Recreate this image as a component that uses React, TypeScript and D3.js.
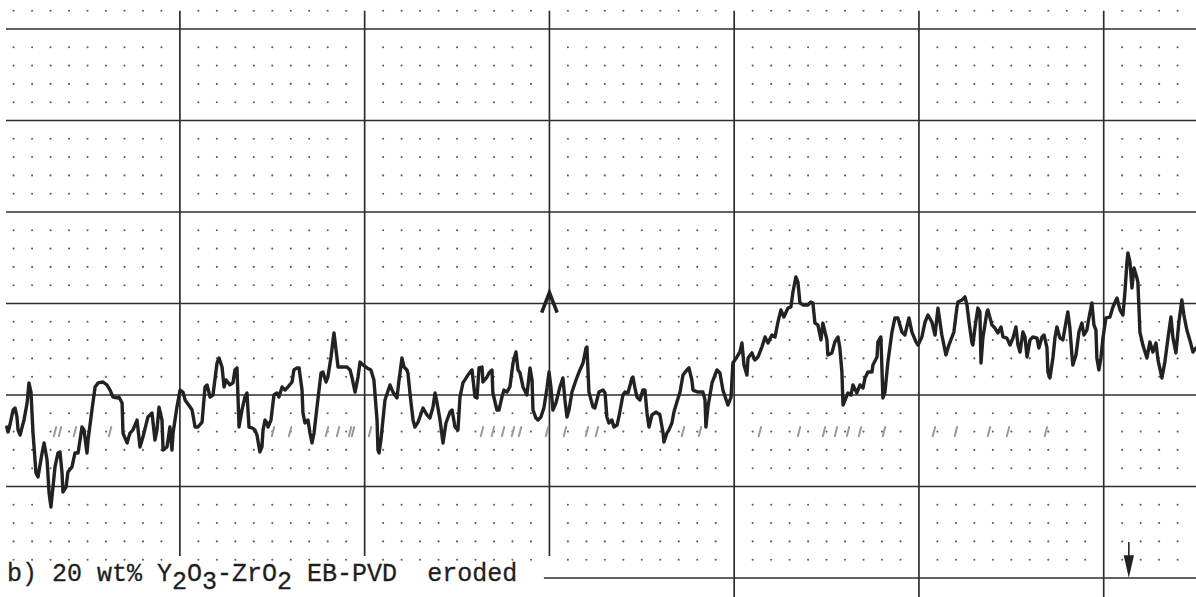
import React from "react";
import * as d3 from "d3";

// Recorder trace: [time (chart divisions), signal (chart divisions)]
const trace: [number, number][] = [
  [0.63, 8.25], [0.7, 7.98], [0.8, 8.36], [0.97, 9.18], [1.08, 9.29], [1.18, 8.8], [1.24, 8.09], [1.35, 7.81],
  [1.45, 8.2], [1.56, 8.63], [1.73, 9.56], [1.83, 10.66], [1.94, 10.16], [2.05, 7.92], [2.21, 5.74], [2.32, 5.52],
  [2.54, 6.83], [2.65, 7.38], [2.81, 6.45], [2.92, 4.64], [3.02, 3.88], [3.13, 4.97], [3.24, 6.07], [3.4, 6.83],
  [3.51, 6.89], [3.62, 5.74], [3.67, 4.7], [3.84, 4.97], [3.94, 5.79], [4.16, 6.07], [4.32, 6.83], [4.49, 6.83],
  [4.7, 8.25], [4.81, 8.09], [4.97, 6.83], [5.03, 7.54], [5.24, 9.18], [5.41, 10.44], [5.57, 10.66], [5.84, 10.71],
  [6.05, 10.55], [6.22, 10.27], [6.38, 9.89], [6.6, 9.84], [6.7, 9.89], [6.87, 9.56], [6.92, 7.92], [7.14, 7.38],
  [7.3, 7.92], [7.46, 8.09], [7.68, 8.63], [7.84, 7.16], [8.0, 7.7], [8.27, 8.8], [8.49, 9.02], [8.65, 7.54],
  [8.76, 8.09], [8.87, 9.34], [9.03, 8.63], [9.09, 6.99], [9.3, 7.16], [9.46, 8.25], [9.57, 6.99], [9.63, 7.92],
  [9.84, 9.34], [10.01, 10.27], [10.17, 10.16], [10.28, 9.73], [10.55, 9.34], [10.66, 9.18], [10.82, 8.25], [10.98, 8.25],
  [11.2, 8.52], [11.36, 10.44], [11.47, 10.55], [11.63, 9.89], [11.79, 10.0], [12.01, 11.75], [12.12, 12.02], [12.28, 11.53],
  [12.39, 10.44], [12.5, 10.82], [12.71, 10.55], [12.87, 10.66], [12.98, 11.37], [13.09, 11.48], [13.2, 8.25], [13.36, 9.18],
  [13.52, 9.89], [13.63, 10.11], [13.74, 8.25], [13.9, 8.2], [14.06, 8.09], [14.17, 7.81], [14.33, 6.89], [14.44, 7.16],
  [14.5, 8.09], [14.61, 8.63], [14.71, 8.47], [14.77, 8.25], [14.93, 8.63], [15.09, 10.0], [15.25, 10.11], [15.36, 9.89],
  [15.53, 10.44], [15.69, 10.27], [15.85, 10.44], [16.07, 10.71], [16.17, 11.37], [16.34, 11.48], [16.45, 11.48], [16.61, 10.27],
  [16.66, 9.02], [16.77, 8.47], [16.93, 8.63], [17.04, 7.92], [17.15, 7.38], [17.26, 7.92], [17.42, 9.34], [17.64, 11.2],
  [17.74, 11.26], [17.91, 10.71], [18.01, 10.98], [18.18, 12.08], [18.29, 13.01], [18.34, 13.39], [18.45, 12.46], [18.56, 11.53],
  [18.77, 11.53], [19.04, 11.53], [19.21, 11.37], [19.31, 10.98], [19.48, 10.16], [19.64, 10.98], [19.75, 11.8], [19.91, 11.64],
  [20.13, 11.48], [20.34, 11.37], [20.5, 10.82], [20.67, 8.63], [20.72, 6.99], [20.78, 6.83], [20.88, 7.54], [21.1, 9.73],
  [21.37, 10.55], [21.53, 10.16], [21.75, 9.84], [21.86, 10.82], [22.02, 12.02], [22.13, 11.53], [22.29, 11.37], [22.34, 11.2],
  [22.51, 9.56], [22.62, 8.63], [22.72, 8.25], [22.89, 8.52], [22.99, 8.8], [23.16, 9.29], [23.37, 8.91], [23.53, 8.74],
  [23.7, 9.34], [23.81, 10.11], [23.91, 9.62], [24.08, 8.63], [24.24, 7.38], [24.4, 8.47], [24.62, 9.07], [24.73, 9.18],
  [24.89, 8.25], [25.05, 8.09], [25.16, 9.89], [25.32, 10.66], [25.59, 11.09], [25.81, 11.37], [25.97, 9.89], [26.08, 9.84],
  [26.19, 11.48], [26.35, 11.53], [26.4, 10.71], [26.62, 10.98], [26.73, 11.2], [26.89, 11.37], [26.94, 10.11], [27.16, 9.18],
  [27.27, 9.18], [27.43, 9.89], [27.54, 10.27], [27.7, 10.16], [27.86, 10.44], [28.03, 11.75], [28.19, 12.35], [28.3, 11.37],
  [28.41, 11.2], [28.57, 10.44], [28.78, 10.0], [28.95, 11.48], [29.06, 10.82], [29.11, 9.18], [29.27, 8.74], [29.38, 8.63],
  [29.54, 8.8], [29.7, 9.29], [29.87, 10.38], [29.98, 11.26], [30.08, 10.44], [30.19, 9.18], [30.35, 9.56], [30.57, 10.44],
  [30.73, 10.93], [30.84, 9.73], [30.95, 8.8], [31.06, 9.18], [31.22, 10.16], [31.44, 10.82], [31.65, 11.37], [31.82, 11.75],
  [31.98, 12.57], [32.03, 12.62], [32.14, 10.16], [32.36, 9.34], [32.46, 9.29], [32.68, 10.16], [32.9, 10.27], [33.01, 10.11],
  [33.11, 8.8], [33.22, 8.47], [33.38, 8.63], [33.49, 8.25], [33.66, 8.36], [33.76, 8.8], [33.98, 10.0], [34.09, 10.16],
  [34.25, 10.11], [34.47, 10.93], [34.52, 10.98], [34.63, 10.38], [34.74, 9.89], [34.9, 9.73], [35.06, 10.27], [35.17, 10.27],
  [35.28, 9.02], [35.39, 8.25], [35.55, 8.91], [35.77, 9.07], [35.98, 8.91], [36.15, 7.92], [36.2, 7.43], [36.36, 7.92],
  [36.47, 8.09], [36.63, 8.47], [36.74, 9.07], [36.9, 9.62], [37.07, 10.16], [37.23, 11.09], [37.44, 11.37], [37.55, 11.48],
  [37.71, 10.82], [37.77, 10.27], [38.04, 10.16], [38.31, 10.16], [38.42, 9.73], [38.47, 8.25], [38.58, 9.34], [38.8, 10.66],
  [39.07, 11.37], [39.23, 11.2], [39.39, 10.27], [39.66, 9.45], [39.83, 9.89], [39.93, 11.75], [40.15, 12.08], [40.31, 12.35],
  [40.42, 12.84], [40.53, 11.64], [40.69, 11.09], [40.75, 12.02], [40.96, 12.3], [41.12, 11.91], [41.29, 12.08], [41.5, 12.62],
  [41.67, 13.17], [41.83, 12.84], [42.04, 13.28], [42.21, 13.17], [42.37, 13.99], [42.53, 14.65], [42.69, 14.26], [42.91, 14.75],
  [43.07, 14.81], [43.18, 15.63], [43.34, 16.45], [43.45, 16.17], [43.56, 15.03], [43.72, 14.92], [43.99, 14.92], [44.15, 15.08],
  [44.26, 15.03], [44.37, 13.93], [44.53, 13.83], [44.7, 13.01], [44.8, 13.93], [45.02, 13.01], [45.07, 12.19], [45.29, 12.3],
  [45.45, 12.9], [45.62, 13.17], [45.72, 12.57], [45.83, 11.26], [45.89, 9.45], [46.05, 9.84], [46.16, 10.11], [46.32, 10.0],
  [46.43, 10.55], [46.64, 10.11], [46.81, 10.55], [46.97, 10.38], [47.08, 10.93], [47.24, 11.26], [47.46, 11.26], [47.51, 11.64],
  [47.73, 12.08], [47.78, 12.9], [47.94, 13.17], [48.05, 9.84], [48.16, 10.16], [48.32, 11.8], [48.54, 13.44], [48.7, 14.21],
  [48.86, 14.21], [49.08, 13.44], [49.24, 13.28], [49.46, 14.21], [49.62, 13.44], [49.84, 12.9], [49.95, 12.73], [50.16, 13.17],
  [50.33, 13.99], [50.49, 14.37], [50.7, 13.99], [50.87, 13.28], [51.03, 14.75], [51.24, 13.28], [51.46, 12.19], [51.62, 12.73],
  [51.89, 13.44], [52.06, 14.81], [52.11, 15.08], [52.33, 15.19], [52.49, 15.36], [52.6, 14.92], [52.71, 13.99], [52.87, 12.84],
  [52.92, 12.73], [53.03, 13.66], [53.19, 14.75], [53.3, 14.54], [53.36, 11.75], [53.46, 13.11], [53.68, 14.54], [53.73, 14.65],
  [53.95, 13.83], [54.11, 13.66], [54.27, 13.39], [54.44, 13.72], [54.55, 13.17], [54.76, 13.11], [54.93, 12.73], [55.09, 13.11],
  [55.25, 13.72], [55.36, 12.73], [55.47, 12.35], [55.63, 13.44], [55.74, 13.17], [55.85, 12.08], [56.01, 13.01], [56.17, 13.17],
  [56.39, 13.11], [56.49, 12.57], [56.66, 13.17], [56.77, 13.28], [56.93, 12.57], [56.98, 11.26], [57.09, 10.93], [57.25, 12.02],
  [57.36, 13.11], [57.47, 13.72], [57.63, 13.11], [57.79, 13.01], [57.96, 13.99], [58.06, 14.54], [58.17, 13.66], [58.28, 12.19],
  [58.33, 11.64], [58.5, 12.19], [58.66, 13.44], [58.82, 13.93], [58.93, 13.28], [59.09, 13.55], [59.2, 14.21], [59.36, 15.03],
  [59.47, 13.83], [59.58, 13.55], [59.63, 12.02], [59.74, 11.37], [59.85, 12.02], [59.96, 13.11], [60.12, 14.21], [60.34, 14.26],
  [60.5, 14.81], [60.72, 15.3], [60.88, 14.65], [61.04, 14.37], [61.15, 15.63], [61.26, 17.27], [61.31, 17.76], [61.42, 17.27],
  [61.53, 15.85], [61.64, 16.94], [61.8, 16.39], [61.85, 16.17], [61.96, 13.44], [62.12, 12.73], [62.34, 12.02], [62.5, 12.9],
  [62.66, 12.35], [62.83, 12.84], [62.94, 11.91], [63.15, 10.93], [63.31, 11.8], [63.48, 13.11], [63.64, 14.26], [63.75, 13.11],
  [63.91, 12.3], [64.07, 13.99], [64.23, 15.19], [64.34, 14.37], [64.5, 13.55], [64.66, 13.01], [64.83, 12.35], [64.99, 12.57],
];

// Faint secondary pen ticks along the lower channel (time positions)
const penTicks: number[] = [
  3.24, 3.51, 4.32, 6.22, 15.04, 15.96, 17.96, 18.56, 19.21, 19.37, 20.29, 26.35, 26.94, 27.49, 28.03, 28.41,
  29.87, 30.84, 32.03, 32.57, 37.23, 38.15, 41.39, 43.51, 44.86, 45.51, 46.16, 46.81, 48.11, 50.81, 52.0, 53.79,
  54.82, 56.87,
];
const penTickLevel = 8.0;

// Event markers
const startMarker = { t: 30, v: 15.6 };
const stopMarker = { t: 61.36, v: 0 };

// Caption, typed with half-line subscripts
const caption: { text: string; sub: boolean }[] = [
  { text: "b) 20 wt% Y", sub: false },
  { text: "2", sub: true },
  { text: "O", sub: false },
  { text: "3", sub: true },
  { text: "-ZrO", sub: false },
  { text: "2", sub: true },
  { text: " EB-PVD  eroded", sub: false },
];

const W = 1196;
const H = 597;

export default function App() {
  const x = d3.scaleLinear().domain([10, 60]).range([179.9, 1103.7]);
  const y = d3.scaleLinear().domain([0, 30]).range([578, 29]);
  const sx = x(1) - x(0); // px per time division
  const sy = y(0) - y(1); // px per signal division

  const cols = d3.range(1, 65);
  const rows = d3.range(1, 32);
  const dots: { c: number; r: number }[] = [];
  cols.forEach((c) => {
    if (c % 10 === 0) return;
    rows.forEach((r) => {
      if (r % 5 === 0) return;
      dots.push({ c, r });
    });
  });

  const majorCols = [10, 20, 30, 40, 50, 60];
  const majorRows = [5, 10, 15, 20, 25, 30];

  const line = d3
    .line<[number, number]>()
    .x((d) => x(d[0]))
    .y((d) => y(d[1]));

  const ux = x(startMarker.t);
  const uy = y(startMarker.v);
  const dx = x(stopMarker.t);
  const dy0 = y(stopMarker.v);
  const subShift = 7.5;

  return (
    <svg
      width={W}
      height={H}
      viewBox={`0 0 ${W} ${H}`}
      style={{ position: "fixed", left: 0, top: 0, background: "#fff" }}
    >
      <rect width={W} height={H} fill="#fff" />
      {/* minor dot grid */}
      <g fill="#5e5e5e">
        {dots.map((d, i) => (
          <circle key={i} cx={x(d.c)} cy={y(d.r)} r={1.05} />
        ))}
      </g>
      {/* major grid */}
      <g stroke="#2e2e2e" strokeWidth={1.7}>
        {majorRows.map((r) => (
          <line key={"h" + r} x1={6} x2={W} y1={y(r)} y2={y(r)} />
        ))}
        <line x1={x(29.7)} x2={W} y1={y(0)} y2={y(0)} />
        {majorCols.map((c) => (
          <line
            key={"v" + c}
            x1={x(c)}
            x2={x(c)}
            y1={y(31)}
            y2={c <= 30 ? y(1.2) : H}
          />
        ))}
      </g>
      {/* secondary pen ticks */}
      <g stroke="#9a9a9a" strokeWidth={2} strokeLinecap="round">
        {penTicks.map((t, i) => (
          <line
            key={i}
            x1={x(t) - 1.2}
            x2={x(t) + 1.2}
            y1={y(penTickLevel - 0.25)}
            y2={y(penTickLevel + 0.25)}
          />
        ))}
      </g>
      {/* main trace */}
      <path
        d={line(trace) || ""}
        fill="none"
        stroke="#222"
        strokeWidth={3.4}
        strokeLinejoin="round"
        strokeLinecap="round"
      />
      {/* start marker */}
      <path
        d={`M${ux - 0.42 * sx},${uy + 1.1 * sy} L${ux},${uy} L${ux + 0.42 * sx},${uy + 1.1 * sy}`}
        fill="none"
        stroke="#222"
        strokeWidth={3.6}
        strokeLinejoin="miter"
      />
      {/* stop marker */}
      <line x1={dx} x2={dx} y1={y(1.97)} y2={y(1.1)} stroke="#222" strokeWidth={1.6} />
      <path
        d={`M${dx - 0.28 * sx},${y(1.25)} L${dx + 0.28 * sx},${y(1.25)} L${dx},${dy0} Z`}
        fill="#222"
      />
      {/* caption */}
      <text
        x={7}
        y={581}
        fontFamily="'Liberation Mono', 'Courier New', monospace"
        fontSize={25}
        fill="#1e1e1e"
        stroke="#1e1e1e"
        strokeWidth={0.3}
        style={{ whiteSpace: "pre" }}
      >
        {caption.map((p, i) => {
          const prevSub = i > 0 && caption[i - 1].sub;
          const shift = (p.sub ? subShift : 0) - (prevSub ? subShift : 0);
          return (
            <tspan key={i} dy={shift}>
              {p.text}
            </tspan>
          );
        })}
      </text>
    </svg>
  );
}
